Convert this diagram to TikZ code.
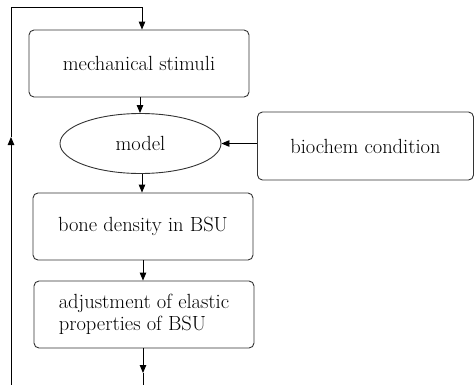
\documentclass[tikz,border=0pt]{standalone}
\usetikzlibrary{arrows.meta,shapes.geometric}
\begin{document}
\begin{tikzpicture}[x=1pt,y=-1pt,
  every node/.style={font=\rmfamily\fontsize{20.5}{22}\selectfont, text=black},
  box/.style={draw=black!80, line width=0.9pt, rounded corners=5pt, minimum width=220pt, minimum height=67pt, inner sep=0pt, align=center},
  conn/.style={draw=black, line width=0.9pt},
  arr/.style={conn, -{Triangle[length=8pt,width=6.5pt]}}]
\useasboundingbox (0,0) rectangle (475,384);
\node[box] (mech) at (139,63.5) {mechanical stimuli};
\node[draw=black!80, line width=0.9pt, ellipse, minimum width=161pt, minimum height=60pt, inner sep=0pt] (model) at (140.5,143.5) {model};
\node[box, minimum width=216pt, minimum height=68pt] (bio) at (365.5,146) {biochem condition};
\node[box] (bone) at (143,226.5) {bone density in BSU};
\node[box, align=left] (adj) at (144,314.5) {adjustment of elastic\\properties of BSU};
\coordinate (lb) at (11,384.5);
\coordinate (lm) at (11,137);
\coordinate (lt) at (11,7);
\coordinate (tt) at (142,7);
\coordinate (bm) at (143,373);
\coordinate (bb) at (143,384.5);
\draw[arr] (lb) -- (lm);
\draw[arr] (lm) -- (lt) -- (tt) -- (tt |- mech.north);
\draw[arr] (140,97) coordinate (m1) (m1 |- mech.south) -- (m1 |- model.north);
\draw[arr] (bio.west |- model.east) -- (model.east);
\draw[arr] (model.south -| bone.north) ++(-1,0) coordinate (m2) -- (m2 |- bone.north);
\draw[arr] (bone.south -| bm) -- (bm |- adj.north);
\draw[arr] (adj.south -| bm) -- (bm);
\draw[conn] (bm) -- (bb);
\end{tikzpicture}
\end{document}
